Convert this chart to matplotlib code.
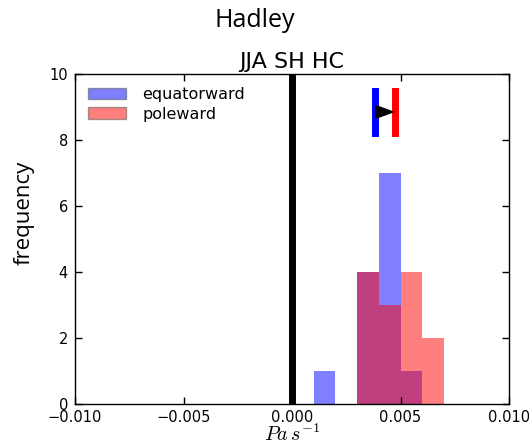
import numpy as np
import matplotlib
matplotlib.use('Agg')
import matplotlib.pyplot as plt
from matplotlib.patches import Patch

plt.rcParams['mathtext.fontset'] = 'cm'

# histogram bins (Pa s^-1) and counts for the two shift directions
bin_edges = [0.001, 0.002, 0.003, 0.004, 0.005, 0.006, 0.007]
equatorward_counts = [1, 0, 4, 7, 1, 0]
poleward_counts = [0, 0, 4, 3, 4, 2]

# multi-model mean positions shown above the histograms
equatorward_mean = 0.00384
poleward_mean = 0.00475

series_labels = ['equatorward', 'poleward']
x_ticks = [-0.010, -0.005, 0.000, 0.005, 0.010]
x_tick_labels = ['\u22120.010', '\u22120.005', '0.000', '0.005', '0.010']
y_ticks = [0, 2, 4, 6, 8, 10]

fig = plt.figure(figsize=(5.29, 4.45), dpi=100)
ax = fig.add_axes([75/529, 41/445, 434/529, 330/445])

edges = np.array(bin_edges)
widths = np.diff(edges)
ax.bar(edges[:-1], equatorward_counts, width=widths, align='edge',
       color='b', alpha=0.5, linewidth=0)
ax.bar(edges[:-1], poleward_counts, width=widths, align='edge',
       color='r', alpha=0.5, linewidth=0)

# zero line
ax.plot([0, 0], [0, 10], color='k', linewidth=5)

# means and the direction of the shift
ax.plot([equatorward_mean, equatorward_mean], [8.2, 9.5], color='b', linewidth=5)
ax.plot([poleward_mean, poleward_mean], [8.2, 9.5], color='r', linewidth=5)
ax.fill([equatorward_mean, poleward_mean, equatorward_mean],
        [8.85 + 0.22, 8.85, 8.85 - 0.22], color='k', linewidth=0, zorder=3)

ax.set_xlim(-0.010, 0.010)
ax.set_ylim(0, 10)
ax.set_xticks(x_ticks)
ax.set_xticklabels(x_tick_labels)
ax.set_yticks(y_ticks)
ax.tick_params(direction='in', top=True, right=True, length=5, width=1,
               labelsize=10.5, pad=5)
ax.tick_params(axis='x', pad=4)
for s in ax.spines.values():
    s.set_linewidth(1)

ax.set_title('JJA SH HC', fontsize=16, pad=4)
ax.set_xlabel(r'$Pa\,s^{-1}$', fontsize=14.5, labelpad=-1)
ax.set_ylabel('frequency', fontsize=16, family='Open Sans')
ax.yaxis.set_label_coords(-0.092, 0.58)

handles = [Patch(facecolor='b', alpha=0.5, edgecolor='0.3', linewidth=1),
           Patch(facecolor='r', alpha=0.5, edgecolor='0.3', linewidth=1)]
ax.legend(handles, series_labels, loc='upper left', frameon=False, fontsize=11.5,
          handlelength=2.4, handleheight=0.7, handletextpad=1.0,
          borderaxespad=0.4, labelspacing=0.3)

fig.text(0.482, 0.955, 'Hadley', fontsize=18, family='Open Sans',
         ha='center', va='center')

fig.savefig('out.png', dpi=100)
